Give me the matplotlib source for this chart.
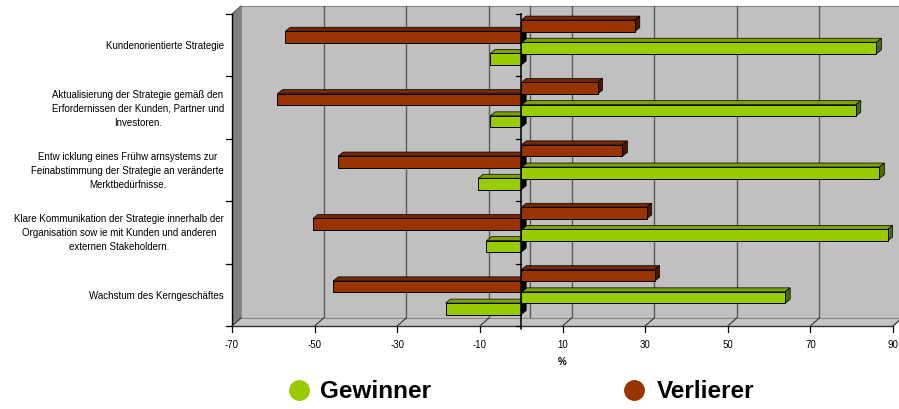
import matplotlib
matplotlib.use("Agg")
import matplotlib.pyplot as plt
from matplotlib.transforms import ScaledTranslation, IdentityTransform, blended_transform_factory
from matplotlib.patches import Polygon, Rectangle
from matplotlib.lines import Line2D

plt.rcParams['font.family'] = ['Liberation Sans', 'DejaVu Sans']

# ---------------- data ----------------
categories = [
    "Kundenorientierte Strategie",
    "Aktualisierung der Strategie gemäß den\nErfordernissen der Kunden, Partner und\nInvestoren.",
    "Entw icklung eines Frühw arnsystems zur\nFeinabstimmung der Strategie an veränderte\nMerktbedürfnisse.",
    "Klare Kommunikation der Strategie innerhalb der\nOrganisation sow ie mit Kunden und anderen\nexternen Stakeholdern.",
    "Wachstum des Kerngeschäftes",
]
verlierer_pos = [27.5, 18.5, 24.5, 30.4, 32.3]
verlierer_neg = [-57.1, -59.0, -44.3, -50.4, -45.5]
gewinner_pos = [86.0, 81.0, 86.7, 88.7, 63.9]
gewinner_neg = [-7.5, -7.5, -10.4, -8.4, -18.3]
x_ticks = [-70, -50, -30, -10, 10, 30, 50, 70, 90]
x_label = "%"
series_names = ["Gewinner", "Verlierer"]

# ---------------- style ----------------
GREEN, GREEN_TOP, GREEN_SIDE = "#99CC00", "#7AA300", "#4F6A00"
RED, RED_TOP, RED_SIDE = "#993300", "#762700", "#4A1800"
WALL, SIDEWALL, FLOOR = "#C0C0C0", "#808080", "#C4C4C4"

W, H = 899, 410
fig = plt.figure(figsize=(W / 100, H / 100), dpi=100)
L, R, T, B = 232, 893, 15, 327          # front plane in image pixels
DX, DY = 9, 8                            # depth of walls (px)
BX, BY = 5, 4                            # depth of bars (px)
BAR_H = 0.185

ax = fig.add_axes([L / W, 1 - B / H, (R - L) / W, (B - T) / H])
ax.set_xlim(x_ticks[0], x_ticks[-1])
ax.set_ylim(len(categories), 0)
ax.axis('off')
ID = IdentityTransform()

# back wall
back = ScaledTranslation(DX / 100, DY / 100, fig.dpi_scale_trans)
ax.add_patch(Rectangle((0, 0), 1, 1, transform=ax.transAxes + back, fc=WALL,
                       ec="#8A8A8A", lw=0.8, zorder=0, clip_on=False))
# left wall & floor
fig.add_artist(Polygon([(L, H - B), (L + DX, H - B + DY), (L + DX, H - T + DY), (L, H - T)],
                       closed=True, transform=ID, fc=SIDEWALL, ec="none", zorder=0.5))
fig.add_artist(Polygon([(L, H - B), (R, H - B), (R + DX, H - B + DY), (L + DX, H - B + DY)],
                       closed=True, transform=ID, fc=FLOOR, ec="none", zorder=0.5))
fig.add_artist(Line2D([L + DX, R + DX + 20], [H - B + DY] * 2, transform=ID, color="#8A8A8A", lw=0.8, zorder=0.6))
fig.add_artist(Line2D([L, R], [H - B] * 2, transform=ID, color="#333333", lw=1.0, zorder=0.7))
fig.add_artist(Line2D([R, R + DX], [H - B, H - B + DY], transform=ID, color="#8A8A8A", lw=0.8, zorder=0.7))
fig.add_artist(Line2D([L, L + DX], [H - T, H - T + DY], transform=ID, color="#555555", lw=0.8, zorder=0.7))

# gridlines on back wall
gtr = blended_transform_factory(ax.transData, ax.transAxes) + back
for v in x_ticks[1:-1] + [0]:
    ax.plot([v, v], [0, 1], transform=gtr, color="#5A5A5A", lw=1.0, zorder=0.8, clip_on=False)

# floor ticks + labels
for v in x_ticks:
    xp = ax.transData.transform((v, 0))[0]
    fig.add_artist(Line2D([xp, xp + DX], [H - B, H - B + DY], transform=ID, color="#333333", lw=0.8, zorder=0.9))
    fig.add_artist(Line2D([xp, xp], [H - B, H - B - 6], transform=ID, color="#000000", lw=0.9, zorder=0.9))
    fig.text(xp / W, 1 - 345 / H, f"{v}", ha="center", va="center", fontsize=7)
fig.text((L + R) / 2 / W, 1 - 362 / H, x_label, ha="center", va="center", fontsize=7, fontweight="bold")

# left axis
fig.add_artist(Line2D([L, L], [H - B, H - T], transform=ID, color="#000000", lw=1.0, zorder=0.9))
for k in range(len(categories) + 1):
    yp = ax.transData.transform((0, k))[1]
    fig.add_artist(Line2D([L - 6, L], [yp, yp], transform=ID, color="#000000", lw=0.9, zorder=0.9))

# category labels
ltr = ax.get_yaxis_transform() + ScaledTranslation(-8 / 100, 0, fig.dpi_scale_trans)
for i, c in enumerate(categories):
    ax.text(0, i + 0.5, c, transform=ltr, ha="right", va="center", multialignment="center",
            fontsize=7, linespacing=1.5)


def bars3d(vals, off, fc, topc, sidec, z):
    ys = [i + 0.5 + off for i in range(len(vals))]
    ax.barh(ys, vals, height=BAR_H, left=0, color=fc, edgecolor="black", linewidth=0.7,
            zorder=z + 0.5, clip_on=False)
    for y, v in zip(ys, vals):
        x0, x1 = sorted([0, v])
        (p0, ya), (p1, yb) = ax.transData.transform([(x0, y - BAR_H / 2), (x1, y + BAR_H / 2)])
        yt, ybm = max(ya, yb), min(ya, yb)
        top = Polygon([(p0, yt), (p1, yt), (p1 + BX, yt + BY), (p0 + BX, yt + BY)], closed=True,
                      transform=ID, fc=topc, ec="black", lw=0.5, zorder=z)
        side_c = sidec if v > 0 else "#000000"
        side = Polygon([(p1, ybm), (p1, yt), (p1 + BX, yt + BY), (p1 + BX, ybm + BY)], closed=True,
                       transform=ID, fc=side_c, ec="black", lw=0.5, zorder=z)
        ax.add_artist(top)
        ax.add_artist(side)
        top.set_clip_on(False)
        side.set_clip_on(False)


bars3d(gewinner_neg, 0.225, GREEN, GREEN_TOP, GREEN_SIDE, 2)
bars3d(gewinner_pos, 0.045, GREEN, GREEN_TOP, GREEN_SIDE, 3)
bars3d(verlierer_neg, -0.131, RED, RED_TOP, RED_SIDE, 4)
bars3d(verlierer_pos, -0.31, RED, RED_TOP, RED_SIDE, 5)

# front zero axis
x0p = ax.transData.transform((0, 0))[0]
fig.add_artist(Line2D([x0p, x0p], [H - B - 3, H - T], transform=ID, color="#000000", lw=1.1, zorder=10))
for k in range(len(categories) + 1):
    yp = ax.transData.transform((0, k))[1]
    fig.add_artist(Line2D([x0p - 5, x0p], [yp, yp], transform=ID, color="#000000", lw=0.9, zorder=10))

# legend
for name, col, xm, xt in zip(series_names, [GREEN, RED], [299, 634], [320, 657]):
    fig.add_artist(Line2D([xm], [H - 391], transform=ID, marker="o", markersize=14, color=col,
                          markeredgecolor=col, linestyle="none"))
    fig.text(xt / W, 1 - 392 / H, name, ha="left", va="center", fontsize=17.5, fontweight="bold")

fig.savefig("out.png", dpi=100)
